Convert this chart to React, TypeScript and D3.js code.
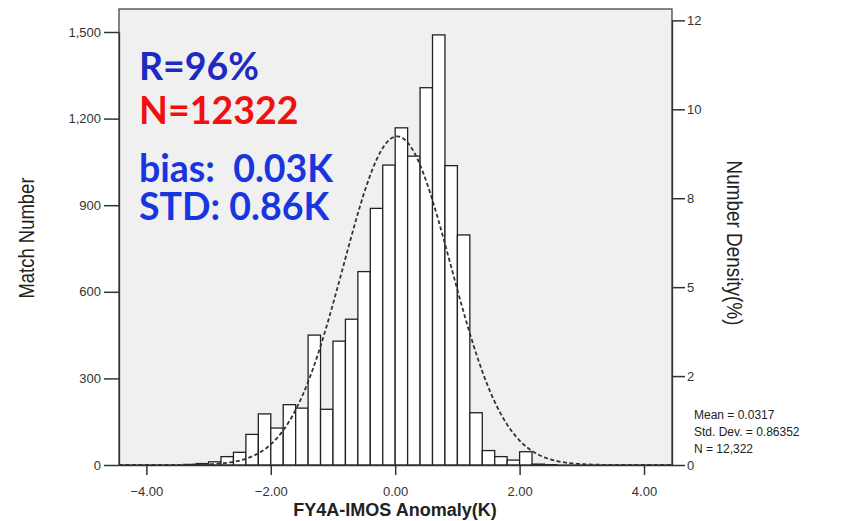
import React, { useEffect, useRef } from "react";
import * as d3 from "d3";

// histogram bins (left edge, K) and match counts
const binStarts = [-3.4, -3.2, -3.0, -2.8, -2.6, -2.4, -2.2, -2.0, -1.8, -1.6, -1.4, -1.2, -1.0, -0.8, -0.6, -0.4, -0.2, 0.0, 0.2, 0.4, 0.6, 0.8, 1.0, 1.2, 1.4, 1.6, 1.8, 2.0, 2.2, 2.4];
const counts = [2, 5, 11, 29, 44, 106, 177, 128, 209, 197, 450, 193, 429, 505, 670, 889, 1039, 1168, 1070, 1307, 1490, 1037, 797, 181, 50, 29, 17, 46, 3, 1];
const binWidth = 0.2;

// fitted normal stats
const mean = 0.0317;
const stdDev = 0.86352;
const total = 12322;

const xTicks = [-4, -2, 0, 2, 4];
const countTicks = [0, 300, 600, 900, 1200, 1500];
const pctTicks = [0, 2.5, 5, 7.5, 10, 12.5];
const pctLabels = ["0", "2", "5", "8", "10", "12"];

const notes = [
  { text: "R=96%", color: "#1d2bc0" },
  { text: "N=12322", color: "#f01010" },
  { text: "bias:  0.03K", color: "#1836e0" },
  { text: "STD: 0.86K", color: "#1836e0" },
];
const statLines = ["Mean = 0.0317", "Std. Dev. = 0.86352", "N = 12,322"];

export default function App() {
  const svgRef = useRef(null);

  useEffect(() => {
    document.body.style.margin = "0";
    const W = 856, H = 521;
    const left = 119, right = 672, top = 9, bottom = 465;
    const svg = d3.select(svgRef.current)
      .attr("width", W)
      .attr("height", H)
      .style("display", "block")
      .style("background", "#fff");
    svg.selectAll("*").remove();

    const x = d3.scaleLinear().domain([-4.44, 4.45]).range([left, right]);
    const y = d3.scaleLinear().domain([0, 1500]).range([bottom, 32]);
    const yPct = d3.scaleLinear().domain([0, 12.5]).range([bottom, y(12.5 / 100 * total)]);

    const axisFont = "'Liberation Sans', Arial, sans-serif";

    // plot background
    svg.append("rect")
      .attr("x", left).attr("y", top)
      .attr("width", right - left).attr("height", bottom - top)
      .attr("fill", "#f0f0f0")
      .attr("stroke", "#444")
      .attr("stroke-width", 1.3);

    // bars
    svg.append("g")
      .selectAll("rect")
      .data(counts)
      .join("rect")
      .attr("x", (d, i) => x(binStarts[i]))
      .attr("width", (d, i) => x(binStarts[i] + binWidth) - x(binStarts[i]))
      .attr("y", d => y(d))
      .attr("height", d => bottom - y(d))
      .attr("fill", "#fff")
      .attr("stroke", "#222")
      .attr("stroke-width", 1.3);

    // normal curve
    const pts = d3.range(-4.44, 4.451, 0.02);
    const norm = (v) => total * binWidth / (stdDev * Math.sqrt(2 * Math.PI)) *
      Math.exp(-0.5 * ((v - mean) / stdDev) ** 2);
    const line = d3.line()
      .x(d => x(d))
      .y(d => y(norm(d)));
    svg.append("path")
      .attr("d", line(pts))
      .attr("fill", "none")
      .attr("stroke", "#333")
      .attr("stroke-width", 1.8)
      .attr("stroke-dasharray", "4,2.5");

    // axes
    const xAxis = d3.axisBottom(x).tickValues(xTicks).tickFormat(d3.format(".2f")).tickSize(10).tickSizeOuter(0);
    const gx = svg.append("g").attr("transform", `translate(0,${bottom})`).call(xAxis);
    const yAxis = d3.axisLeft(y).tickValues(countTicks).tickFormat(d3.format(",")).tickSize(15).tickSizeOuter(0);
    const gy = svg.append("g").attr("transform", `translate(${left},0)`).call(yAxis);
    const pAxis = d3.axisRight(yPct).tickValues(pctTicks).tickFormat((d, i) => pctLabels[i]).tickSize(13).tickSizeOuter(0);
    const gp = svg.append("g").attr("transform", `translate(${right},0)`).call(pAxis);

    [gx, gy, gp].forEach(g => {
      g.select(".domain").attr("stroke", "#333").attr("stroke-width", 1.3);
      g.selectAll(".tick line").attr("stroke", "#333").attr("stroke-width", 1.5);
      g.selectAll(".tick text")
        .attr("fill", "#333")
        .style("font-family", axisFont)
        .style("font-size", "13px");
    });
    gx.selectAll(".tick text").attr("dy", "1.4em");
    gy.selectAll(".tick text").attr("x", -18);
    gp.selectAll(".tick text").attr("x", 15);

    // axis titles (condensed look)
    svg.append("text")
      .attr("transform", `translate(34,238) rotate(-90) scale(0.84,1)`)
      .attr("text-anchor", "middle")
      .style("font-family", axisFont)
      .style("font-size", "22px")
      .attr("fill", "#222")
      .text("Match Number");
    svg.append("text")
      .attr("transform", `translate(727,243) rotate(90) scale(0.86,1)`)
      .attr("text-anchor", "middle")
      .style("font-family", axisFont)
      .style("font-size", "22px")
      .attr("fill", "#222")
      .text("Number Density(%)");
    svg.append("text")
      .attr("x", 395).attr("y", 516)
      .attr("text-anchor", "middle")
      .style("font-family", axisFont)
      .style("font-size", "18px")
      .style("font-weight", "bold")
      .attr("fill", "#222")
      .text("FY4A-IMOS Anomaly(K)");

    // stats box
    svg.append("g")
      .selectAll("text")
      .data(statLines)
      .join("text")
      .attr("x", 694)
      .attr("y", (d, i) => 419 + i * 17)
      .style("font-family", axisFont)
      .style("font-size", "12px")
      .attr("fill", "#222")
      .text(d => d);

    // annotations
    const noteY = [80, 124, 182, 220];
    svg.append("g")
      .selectAll("text")
      .data(notes)
      .join("text")
      .attr("x", 139)
      .attr("y", (d, i) => noteY[i])
      .style("font-family", "Lato, 'Open Sans', sans-serif")
      .style("font-size", "37.5px")
      .style("font-weight", "bold")
      .style("white-space", "pre")
      .attr("fill", d => d.color)
      .text(d => d.text);
  }, []);

  return (
    <div>
      <svg ref={svgRef}></svg>
    </div>
  );
}
